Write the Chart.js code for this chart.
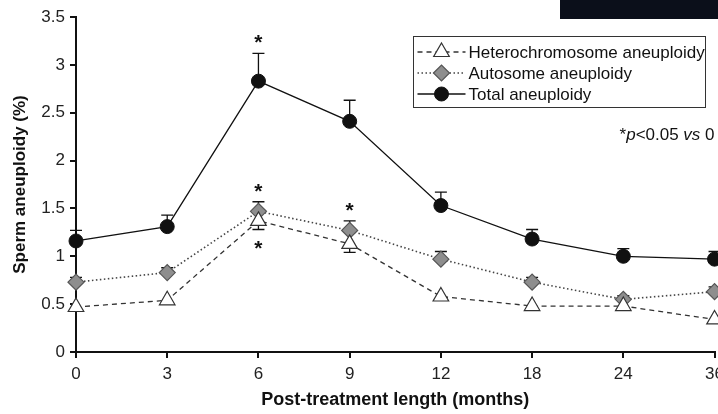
<!DOCTYPE html>
<html lang="en">
  <head>
    <meta charset="UTF-8" />
    <script src="https://cdn.jsdelivr.net/npm/chart.js@4.4.1/dist/chart.umd.min.js"></script>
    <style>
      body {
        margin: 0;
        background: #fff;
      }
      #wrap {
        position: relative;
        width: 718px;
        height: 414px;
        overflow: hidden;
      }
      #band {
        position: absolute;
        left: 560px;
        top: 0;
        width: 158px;
        height: 19px;
        background: #0b0f1a;
      }
    </style>
    <title>Sperm aneuploidy</title>
  </head>
  <body>
    <div id="wrap">
      <canvas id="chart" width="730" height="414"></canvas>
      <div id="band"></div>
    </div>
    <script>
      const months = ["0", "3", "6", "9", "12", "18", "24", "36"];

      const hetero = [0.47, 0.54, 1.37, 1.13, 0.58, 0.48, 0.48, 0.34];
      const heteroErr = [0.03, 0.03, 0.09, 0.09, 0.03, 0.02, 0.03, 0.03];
      const heteroSig = [0, 0, 1, 0, 0, 0, 0, 0];

      const autosome = [0.73, 0.83, 1.47, 1.27, 0.97, 0.73, 0.55, 0.63];
      const autosomeErr = [0.05, 0.05, 0.1, 0.1, 0.08, 0.05, 0.04, 0.05];
      const autosomeSig = [0, 0, 1, 1, 0, 0, 0, 0];

      const total = [1.16, 1.31, 2.83, 2.41, 1.53, 1.18, 1.0, 0.97];
      const totalErr = [0.11, 0.12, 0.29, 0.22, 0.14, 0.1, 0.08, 0.08];
      const totalSig = [0, 0, 1, 0, 0, 0, 0, 0];

      const yTicks = [0, 0.5, 1, 1.5, 2, 2.5, 3, 3.5];

      const FONT = "'Liberation Sans', Arial, sans-serif";

      // error bars (one-sided) under the markers
      const errorBars = {
        id: "errorBars",
        beforeDatasetsDraw(chart) {
          const ctx = chart.ctx;
          const y = chart.scales.y;
          ctx.save();
          ctx.strokeStyle = "#111";
          ctx.lineWidth = 1.3;
          chart.data.datasets.forEach((ds, i) => {
            const meta = chart.getDatasetMeta(i);
            meta.data.forEach((pt, j) => {
              const end = y.getPixelForValue(ds.data[j] + ds.errDir * ds.errors[j]);
              ctx.beginPath();
              ctx.moveTo(pt.x, pt.y);
              ctx.lineTo(pt.x, end);
              ctx.moveTo(pt.x - 6, end);
              ctx.lineTo(pt.x + 6, end);
              ctx.stroke();
            });
          });
          ctx.restore();
        },
        afterDatasetsDraw(chart) {
          // significance stars
          const ctx = chart.ctx;
          const y = chart.scales.y;
          ctx.save();
          ctx.fillStyle = "#111";
          ctx.font = "bold 21px " + FONT;
          ctx.textAlign = "center";
          ctx.textBaseline = "alphabetic";
          chart.data.datasets.forEach((ds, i) => {
            const meta = chart.getDatasetMeta(i);
            meta.data.forEach((pt, j) => {
              if (!ds.sig[j]) return;
              const end = y.getPixelForValue(ds.data[j] + ds.errDir * ds.errors[j]);
              const cy = ds.errDir > 0 ? end - 16 : end + 14;
              ctx.fillText("*", pt.x, cy + 12);
            });
          });
          ctx.restore();
        },
        afterDraw(chart) {
          const ctx = chart.ctx;
          const area = chart.chartArea;
          ctx.save();
          // legend box
          const bx = 413.5, by = 36.5, bw = 292, bh = 71;
          ctx.strokeStyle = "#333";
          ctx.lineWidth = 1;
          ctx.strokeRect(bx, by, bw, bh);
          ctx.font = "17px " + FONT;
          ctx.textBaseline = "alphabetic";
          ctx.textAlign = "left";
          const rows = [52, 73, 94];
          chart.data.datasets.forEach((ds, i) => {
            const cy = rows[i];
            ctx.save();
            ctx.strokeStyle = ds.borderColor;
            ctx.lineWidth = ds.borderWidth;
            ctx.setLineDash(ds.borderDash || []);
            ctx.beginPath();
            ctx.moveTo(bx + 4, cy);
            ctx.lineTo(bx + 52, cy);
            ctx.stroke();
            ctx.restore();
            ctx.fillStyle = ds.pointBackgroundColor;
            ctx.strokeStyle = ds.pointBorderColor;
            ctx.lineWidth = ds.pointBorderWidth;
            Chart.helpers.drawPoint(ctx, { pointStyle: ds.pointStyle, radius: ds.pointRadius, borderWidth: ds.pointBorderWidth, rotation: 0 }, bx + 28, cy);
            ctx.fillStyle = "#111";
            ctx.fillText(ds.label, bx + 55, cy + 6);
          });
          // p-value note
          ctx.textAlign = "left";
          ctx.fillStyle = "#111";
          const parts = [["*", ""], ["p", "italic "], ["<0.05 ", ""], ["vs", "italic "], [" 0", ""]];
          let w = 0;
          parts.forEach((p) => {
            ctx.font = p[1] + "17px " + FONT;
            w += ctx.measureText(p[0]).width;
          });
          let x = area.right - w;
          parts.forEach((p) => {
            ctx.font = p[1] + "17px " + FONT;
            ctx.fillText(p[0], x, 140);
            x += ctx.measureText(p[0]).width;
          });
          ctx.restore();
        },
      };

      const config = {
        type: "line",
        data: {
          labels: months,
          datasets: [
            {
              label: "Heterochromosome aneuploidy",
              data: hetero,
              errors: heteroErr,
              errDir: -1,
              sig: heteroSig,
              borderColor: "#333",
              borderWidth: 1.3,
              borderDash: [5, 4],
              pointStyle: "triangle",
              pointRadius: 9,
              pointBackgroundColor: "#fff",
              pointBorderColor: "#333",
              pointBorderWidth: 1.2,
            },
            {
              label: "Autosome aneuploidy",
              data: autosome,
              errors: autosomeErr,
              errDir: 1,
              sig: autosomeSig,
              borderColor: "#444",
              borderWidth: 1.6,
              borderDash: [1.5, 2.5],
              pointStyle: "rectRot",
              pointRadius: 8,
              pointBackgroundColor: "#8e8e8e",
              pointBorderColor: "#555",
              pointBorderWidth: 1.2,
            },
            {
              label: "Total aneuploidy",
              data: total,
              errors: totalErr,
              errDir: 1,
              sig: totalSig,
              borderColor: "#111",
              borderWidth: 1.3,
              pointStyle: "circle",
              pointRadius: 7,
              pointBackgroundColor: "#111",
              pointBorderColor: "#111",
              pointBorderWidth: 1,
            },
          ],
        },
        options: {
          responsive: false,
          animation: false,
          layout: { padding: { top: 17, left: 0, right: 0, bottom: 0 } },
          plugins: {
            legend: { display: false },
            tooltip: { enabled: false },
          },
          elements: { line: { tension: 0 } },
          scales: {
            x: {
              offset: false,
              grid: { drawOnChartArea: false, color: "#111", lineWidth: 2, tickLength: 6, offset: false },
              border: { color: "#111", width: 2 },
              ticks: { color: "#222", font: { family: FONT, size: 17 }, padding: 6, maxRotation: 0, autoSkip: false },
              title: {
                display: true,
                text: "Post-treatment length (months)",
                color: "#111",
                font: { family: FONT, size: 18, weight: "bold" },
                padding: { top: 0, bottom: 3 },
              },
              afterFit: (s) => {
                s.height = 62;
              },
            },
            y: {
              min: 0,
              max: 3.5,
              afterBuildTicks: (s) => {
                s.ticks = yTicks.map((v) => ({ value: v }));
              },
              grid: { drawOnChartArea: false, color: "#111", lineWidth: 2, tickLength: 6 },
              border: { color: "#111", width: 2 },
              ticks: {
                color: "#222",
                font: { family: FONT, size: 17 },
                padding: 5,
                callback: (v) => String(+(+v).toFixed(1)),
              },
              title: {
                display: true,
                text: "Sperm aneuploidy (%)",
                color: "#111",
                font: { family: FONT, size: 17, weight: "bold" },
                padding: { top: 10, bottom: 0 },
              },
              afterFit: (s) => {
                s.width = 76;
              },
            },
          },
        },
        plugins: [errorBars],
      };

      const chart = new Chart(document.getElementById("chart"), config);
    </script>
  </body>
</html>
